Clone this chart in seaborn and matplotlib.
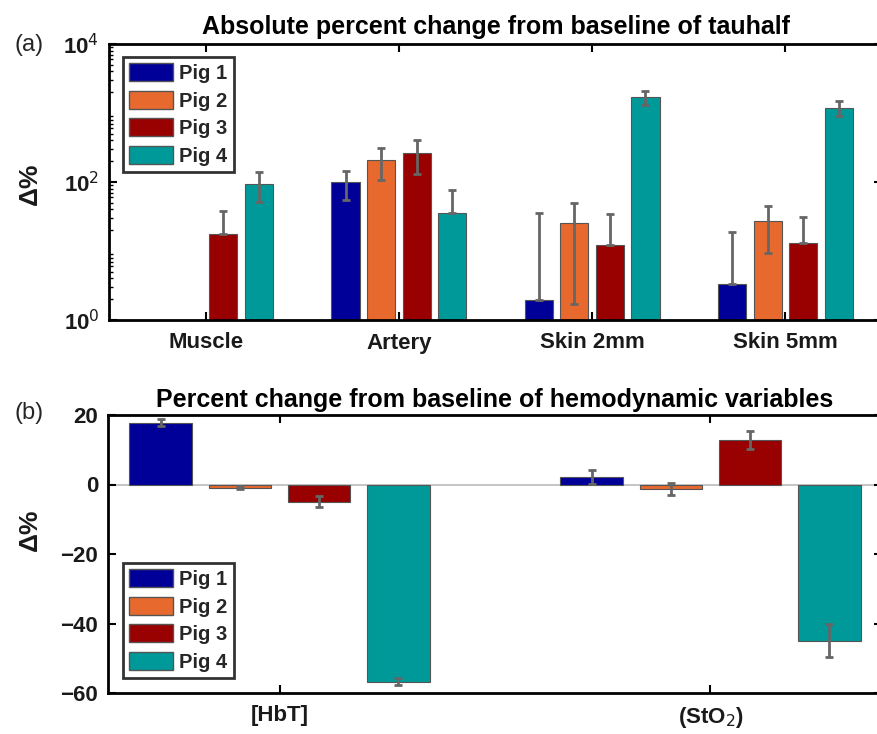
import numpy as np
import pandas as pd
import matplotlib
matplotlib.use("Agg")
import matplotlib.pyplot as plt
import seaborn as sns
from matplotlib.ticker import LogLocator, NullFormatter
from matplotlib.patches import Patch

sns.set_theme(style="white")
plt.rcParams['font.family'] = ['Liberation Sans', 'DejaVu Sans']

pigs = ["Pig 1", "Pig 2", "Pig 3", "Pig 4"]
colors = ["#000099", "#E8692D", "#990000", "#009999"]

# Panel (a): absolute percent change of tauhalf (log scale)
tissues = ["Muscle", "Artery", "Skin 2mm", "Skin 5mm"]
tau_pig1 = [np.nan, 99, 1.95, 3.3]
tau_pig2 = [np.nan, 208, 25.7, 27.2]
tau_pig3 = [17.5, 266, 12.1, 13.2]
tau_pig4 = [94.6, 35.9, 1690, 1195]
tau_err1 = [np.nan, 44, 34, 15.6]
tau_err2 = [np.nan, 100, 24, 18]
tau_err3 = [20.5, 137, 22, 18]
tau_err4 = [43, 40, 400, 290]

# Panel (b): percent change of hemodynamic variables
variables = ["[HbT]", "(StO$_2$)"]
hemo_pig1 = [17.8, 2.2]
hemo_pig2 = [-0.87, -1.35]
hemo_pig3 = [-4.9, 12.9]
hemo_pig4 = [-56.8, -44.9]
hemo_err1 = [1.1, 2.1]
hemo_err2 = [0.3, 1.7]
hemo_err3 = [1.6, 2.6]
hemo_err4 = [1.0, 4.7]


def long_df(cats, vals, errs):
    rows = []
    for p, v, e in zip(pigs, vals, errs):
        for c, vv, ee in zip(cats, v, e):
            rows.append({"cat": c, "pig": p, "val": vv, "err": ee})
    return pd.DataFrame(rows)


df_a = long_df(tissues, [tau_pig1, tau_pig2, tau_pig3, tau_pig4],
               [tau_err1, tau_err2, tau_err3, tau_err4])
df_b = long_df(variables, [hemo_pig1, hemo_pig2, hemo_pig3, hemo_pig4],
               [hemo_err1, hemo_err2, hemo_err3, hemo_err4])

W, H = 877, 734
fig = plt.figure(figsize=(W / 100, H / 100), dpi=100)


def fig_axes(x0, y0, x1, y1):
    return fig.add_axes([x0 / W, 1 - y1 / H, (x1 - x0) / W, (y1 - y0) / H])


ax1 = fig_axes(109, 44, 882, 320)
ax2 = fig_axes(108, 415, 882, 693)

err_color = "#666666"


def draw(ax, df, cats, log=False):
    sns.barplot(data=df, x="cat", y="val", hue="pig", order=cats,
                hue_order=pigs, palette=colors, saturation=1, width=0.736,
                gap=0.21, errorbar=None, edgecolor="#555555", linewidth=0.8,
                ax=ax, legend=False)
    n = len(pigs)
    step = 0.736 / n
    for i, p in enumerate(pigs):
        sub = df[df.pig == p].set_index("cat").loc[cats]
        xs = np.arange(len(cats)) - 0.736 / 2 + step * (i + 0.5)
        v = sub["val"].to_numpy(float)
        e = sub["err"].to_numpy(float)
        lower = e.copy()
        if log:
            lower = np.where(v - e > 0, e, 0.0)
        ax.errorbar(xs, v, yerr=[lower, e], fmt="none", ecolor=err_color,
                    elinewidth=2, capsize=3, capthick=2, zorder=5)


ax1.set_yscale("log")
draw(ax1, df_a, tissues, log=True)
ax1.set_ylim(1, 1e4)
ax1.set_xlim(-0.5, 3.5)
ax1.set_yticks([1, 100, 10000])
ax1.set_yticklabels(["10$^0$", "10$^2$", "10$^4$"])
ax1.yaxis.set_minor_locator(LogLocator(base=10, subs=np.arange(2, 10), numticks=20))
ax1.yaxis.set_minor_formatter(NullFormatter())

draw(ax2, df_b, variables)
ax2.axhline(0, color="#bbbbbb", lw=1.2, zorder=0.5)
ax2.set_ylim(-60, 20)
ax2.set_xlim(-0.398, 1.398)
ax2.set_yticks([-60, -40, -20, 0, 20])
ax2.set_yticklabels(["\u221260", "\u221240", "\u221220", "0", "20"])

for ax in (ax1, ax2):
    for s in ax.spines.values():
        s.set_visible(True)
        s.set_color("black")
        s.set_linewidth(2)
    ax.tick_params(which="both", direction="in", top=True, right=True,
                   bottom=True, left=True, color="black")
    ax.tick_params(which="major", length=6, width=1.5, labelsize=16)
    ax.tick_params(axis="x", which="major", pad=9)
    ax.tick_params(axis="y", which="major", pad=7)
    ax.tick_params(which="minor", length=3, width=1)
    ax.tick_params(axis="x", which="minor", bottom=False, top=False)
    for lab in ax.get_xticklabels() + ax.get_yticklabels():
        lab.set_fontweight("bold")
        lab.set_color("#1a1a1a")
    ax.set_xlabel("")
    ax.set_ylabel("\u0394%", fontsize=19, fontweight="bold", color="#1a1a1a")
    ax.set_facecolor("white")

ax1.yaxis.set_label_coords(42 / W, 1 - 184 / H, transform=fig.transFigure)
ax2.yaxis.set_label_coords(42 / W, 1 - 530 / H, transform=fig.transFigure)

ax1.set_title("Absolute percent change from baseline of tauhalf",
              fontsize=18, fontweight="bold", pad=7, color="black")
ax2.set_title("Percent change from baseline of hemodynamic variables",
              fontsize=18, fontweight="bold", pad=6, color="black")

handles = [Patch(facecolor=c, edgecolor="#555555", label=p) for c, p in zip(colors, pigs)]
for ax, anchor in ((ax1, (123, 57)), (ax2, (123, 563))):
    leg = ax.legend(handles=handles, loc="upper left",
                    bbox_to_anchor=(anchor[0] / W, 1 - anchor[1] / H),
                    bbox_transform=fig.transFigure,
                    prop=dict(weight="bold", size=14.5), frameon=True,
                    fancybox=False, handlelength=2.2, handleheight=1.0,
                    handletextpad=0.3, labelspacing=0.38, borderpad=0.3,
                    borderaxespad=0)
    leg.get_frame().set_edgecolor("black")
    leg.get_frame().set_linewidth(2)

fig.text(14 / W, 1 - 45 / H, "(a)", fontsize=17, va="center", ha="left")
fig.text(14 / W, 1 - 413 / H, "(b)", fontsize=17, va="center", ha="left")

fig.savefig("out.png", dpi=100, facecolor="white")
